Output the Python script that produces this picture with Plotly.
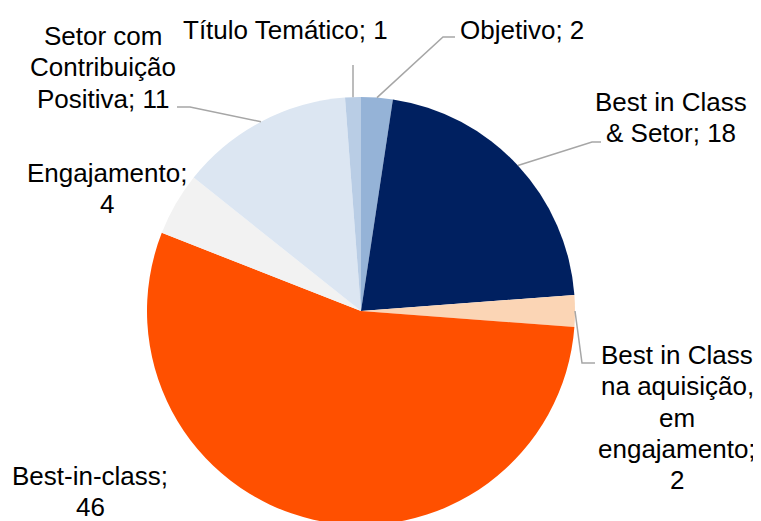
import math
import plotly.graph_objects as go

# ---- data ----
categories = ["Objetivo", "Best in Class & Setor",
              "Best in Class na aquisição, em engajamento",
              "Best-in-class", "Engajamento",
              "Setor com Contribuição Positiva", "Título Temático"]
values = [2, 18, 2, 46, 4, 11, 1]
label_lines = [
    ["Objetivo; 2"],
    ["Best in Class", "& Setor; 18"],
    ["Best in Class", "na aquisição,", "em", "engajamento;", "2"],
    ["Best-in-class;", "46"],
    ["Engajamento;", "4"],
    ["Setor com", "Contribuição", "Positiva; 11"],
    ["Título Temático; 1"],
]
colors = ["#95B3D7", "#002060", "#FBD5B5", "#FF5000",
          "#F2F2F2", "#DCE6F2", "#B9CDE5"]

W, H = 761, 521
OFF = 8  # page body margin offset of the rendered figure
FONT = "Liberation Sans, Arial, sans-serif"
FS = 26
LINE_GAP = 31.3

# pie domain in screen pixels (left, right, top, bottom)
dom_px = (147, 575, 97, 525)
cx = (dom_px[0] + dom_px[1]) / 2
cy = (dom_px[2] + dom_px[3]) / 2
R = min(dom_px[1] - dom_px[0], dom_px[3] - dom_px[2]) / 2

# label layout: (center x, first-line y) in screen pixels
label_pos = [
    (522, 30),
    (671, 102),
    (677, 355),
    (90, 476),
    (107, 173),
    (103, 36),
    (285, 30),
]
leader_elbows = [
    [(443, 37), (455, 37)],
    [(592, 142), (601, 142)],
    [(582, 363), (595, 363)],
    None,
    None,
    [(190, 107), (177, 107)],
    ["vertical", 65],
]

def px2paper(x, y):
    return (x - OFF) / W, 1 - (y - OFF) / H

d0 = px2paper(dom_px[0], dom_px[3])
d1 = px2paper(dom_px[1], dom_px[2])
fig = go.Figure(go.Pie(
    labels=categories, values=values, sort=False, direction="clockwise",
    rotation=0, marker=dict(colors=colors, line=dict(width=0)),
    textinfo="none", hoverinfo="label+value", showlegend=False,
    domain=dict(x=[d0[0], d1[0]], y=[d0[1], d1[1]]),
))

annotations = []
shapes = []
total = sum(values)
cum = 0
for i, v in enumerate(values):
    mid = (cum + v / 2) / total * 2 * math.pi
    cum += v
    ex = cx + R * math.sin(mid)
    ey = cy - R * math.cos(mid)
    lx, ly = label_pos[i]
    for j, line in enumerate(label_lines[i]):
        px, py = px2paper(lx, ly + j * LINE_GAP)
        annotations.append(dict(
            x=px, y=py, xref="paper", yref="paper", text=line,
            showarrow=False, xanchor="center", yanchor="middle",
            font=dict(family=FONT, size=FS, color="#000000")))
    el = leader_elbows[i]
    if el is None:
        continue
    if el[0] == "vertical":
        pts = [(ex, ey), (ex, el[1])]
    else:
        pts = [(ex, ey)] + el
    path = ""
    for k, (x, y) in enumerate(pts):
        pxp, pyp = px2paper(x, y)
        path += ("M" if k == 0 else "L") + f"{pxp:.5f},{pyp:.5f}"
    shapes.append(dict(type="path", path=path, xref="paper", yref="paper",
                       line=dict(color="#A6A6A6", width=1.5)))

fig.update_layout(
    width=W, height=H, margin=dict(l=0, r=0, t=0, b=0),
    paper_bgcolor="white", plot_bgcolor="white",
    annotations=annotations, shapes=shapes,
)
fig.write_html("out.html")
